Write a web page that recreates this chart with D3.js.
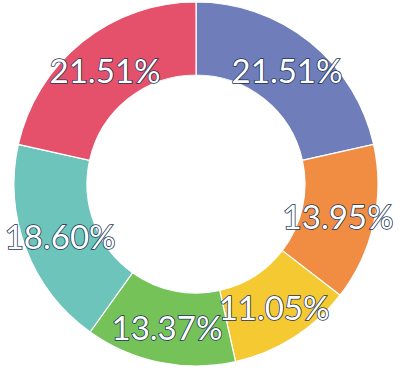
<!DOCTYPE html>
<html><head><meta charset="utf-8">
<script src="https://cdn.jsdelivr.net/npm/d3@7"></script>
<style>html,body{margin:0;padding:0;background:#fff;}</style>
</head><body>
<svg id="c" width="400" height="374"></svg>
<script>
const categories = ["A","B","C","D","E","F"];
const values = [21.51, 13.95, 11.05, 13.37, 18.60, 21.51];
const labels = ["21.51%","13.95%","11.05%","13.37%","18.60%","21.51%"];
const colors = ["#6f7dbb","#f08d42","#f5c932","#75c358","#6cc4ba","#e5506a"];

const svg = d3.select("#c");
const cx = 196, cy = 184, R = 182, r = 109;
const g = svg.append("g").attr("transform", `translate(${cx},${cy})`);
const pie = d3.pie().sort(null).value(d => d)(values);
const arc = d3.arc().innerRadius(r).outerRadius(R);
g.selectAll("path").data(pie).join("path")
  .attr("d", arc)
  .attr("fill", (d,i) => colors[i])
  .attr("stroke", "#fff").attr("stroke-width", 1.2);
g.selectAll("text").data(pie).join("text")
  .attr("transform", d => `translate(${arc.centroid(d)})`)
  .attr("text-anchor", "middle").attr("dominant-baseline", "central")
  .attr("font-family", "Lato, 'Open Sans', sans-serif")
  .attr("font-size", 33)
  .attr("fill", "#fff").attr("stroke", "#1d3557").attr("stroke-width", 1.6)
  .attr("paint-order", "stroke")
  .text((d,i) => labels[i]);
</script>
</body></html>
